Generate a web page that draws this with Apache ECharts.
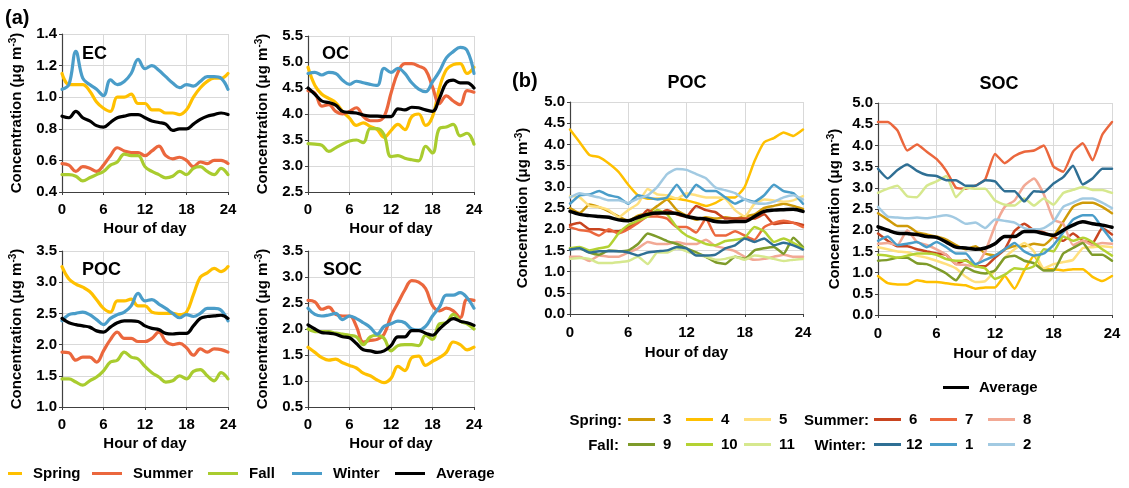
<!DOCTYPE html>
<html>
<head>
<meta charset="utf-8">
<script src="https://cdn.jsdelivr.net/npm/echarts@6/dist/echarts.min.js"></script>
<style>
html, body { margin: 0; padding: 0; background: #fff; }
#chart { width: 1129px; height: 488px; }
</style>
</head>
<body>
<div id="chart"></div>
<script>
// hour of day, 0..24
const hours = [0,1,2,3,4,5,6,7,8,9,10,11,12,13,14,15,16,17,18,19,20,21,22,23,24];
const seasons = ['Spring', 'Summer', 'Fall', 'Winter', 'Average'];
const months = ['3','4','5','6','7','8','9','10','11','12','1','2'];

// (a) EC
const ecSpring  = [1.15,1.08,1.08,1.08,1.04,0.97,0.93,0.91,1.00,1.00,1.02,0.96,0.96,0.92,0.92,0.90,0.90,0.89,0.92,1.00,1.06,1.10,1.12,1.12,1.15];
const ecSummer  = [0.58,0.57,0.53,0.56,0.55,0.53,0.57,0.63,0.68,0.66,0.65,0.65,0.63,0.66,0.69,0.63,0.61,0.62,0.60,0.56,0.59,0.58,0.60,0.60,0.58];
const ecFall    = [0.51,0.51,0.50,0.47,0.49,0.51,0.53,0.57,0.59,0.64,0.63,0.63,0.56,0.53,0.51,0.49,0.50,0.53,0.51,0.55,0.56,0.53,0.51,0.55,0.51];
const ecWinter  = [1.05,1.08,1.29,1.12,1.08,1.05,1.01,1.11,1.08,1.10,1.15,1.24,1.18,1.20,1.17,1.13,1.09,1.06,1.08,1.07,1.10,1.13,1.13,1.12,1.05];
const ecAverage = [0.88,0.87,0.91,0.87,0.85,0.82,0.81,0.84,0.87,0.88,0.89,0.89,0.87,0.85,0.84,0.83,0.79,0.80,0.80,0.83,0.86,0.88,0.89,0.90,0.89];

// (a) OC
const ocSpring  = [4.90,4.55,4.38,4.30,4.22,4.05,3.92,3.78,3.83,3.76,3.70,3.55,3.68,3.80,3.70,3.95,4.00,3.78,3.95,4.50,4.85,4.95,4.97,4.78,4.90];
const ocSummer  = [4.45,4.40,4.15,4.18,4.05,4.00,4.05,4.12,3.95,3.87,3.87,3.95,4.40,4.80,4.97,4.97,4.92,4.85,4.52,4.20,4.35,4.25,4.18,4.45,4.42];
const ocFall    = [3.43,3.42,3.40,3.28,3.35,3.42,3.48,3.50,3.45,3.72,3.72,3.60,3.18,3.20,3.15,3.12,3.10,3.38,3.25,3.72,3.75,3.80,3.58,3.63,3.42];
const ocWinter  = [4.78,4.80,4.75,4.80,4.78,4.65,4.57,4.63,4.60,4.57,4.55,4.88,4.80,4.88,4.78,4.60,4.48,4.43,4.62,4.82,5.08,5.20,5.28,5.22,4.78];
const ocAverage = [4.50,4.38,4.25,4.22,4.17,4.05,4.03,4.02,3.98,3.96,3.96,3.95,3.95,4.10,4.08,4.13,4.12,4.08,4.05,4.30,4.60,4.65,4.60,4.60,4.50];

// (a) POC
const pocSpring  = [3.25,3.05,2.97,2.92,2.85,2.72,2.58,2.52,2.70,2.70,2.73,2.62,2.62,2.52,2.50,2.50,2.50,2.48,2.52,2.80,3.08,3.15,3.22,3.17,3.25];
const pocSummer  = [1.88,1.87,1.75,1.80,1.80,1.72,1.90,2.08,2.20,2.10,2.10,2.05,2.05,2.10,2.20,2.05,2.00,2.02,1.95,1.83,1.93,1.88,1.93,1.92,1.88];
const pocFall    = [1.45,1.45,1.40,1.35,1.42,1.48,1.58,1.72,1.75,1.88,1.80,1.77,1.65,1.55,1.48,1.40,1.42,1.50,1.45,1.57,1.60,1.50,1.42,1.55,1.45];
const pocWinter  = [2.38,2.48,2.50,2.52,2.48,2.40,2.32,2.42,2.48,2.52,2.62,2.82,2.70,2.72,2.65,2.58,2.50,2.43,2.48,2.45,2.50,2.58,2.58,2.55,2.38];
const pocAverage = [2.42,2.35,2.32,2.30,2.28,2.22,2.20,2.28,2.35,2.38,2.38,2.37,2.30,2.26,2.24,2.18,2.17,2.18,2.18,2.30,2.42,2.45,2.46,2.47,2.42];

// (a) SOC
const socSpring  = [1.65,1.55,1.45,1.40,1.42,1.35,1.30,1.25,1.15,1.10,1.02,0.97,1.05,1.28,1.20,1.45,1.48,1.30,1.38,1.45,1.55,1.75,1.70,1.60,1.65];
const socSummer  = [2.55,2.52,2.38,2.42,2.28,2.25,2.25,2.05,1.75,1.78,1.80,1.90,2.25,2.50,2.75,2.93,2.90,2.78,2.45,2.35,2.40,2.35,2.22,2.57,2.55];
const socFall    = [2.00,1.95,1.95,1.95,1.92,1.90,1.88,1.85,1.70,1.85,1.88,1.82,1.58,1.68,1.70,1.70,1.68,1.88,1.80,2.10,2.12,2.28,2.15,2.10,2.00];
const socWinter  = [2.40,2.28,2.25,2.27,2.30,2.18,2.25,2.20,2.12,2.03,1.90,2.05,2.10,2.15,2.12,2.00,1.98,2.05,2.25,2.42,2.65,2.65,2.70,2.60,2.40];
const socAverage = [2.08,2.00,1.93,1.92,1.90,1.85,1.83,1.72,1.60,1.58,1.55,1.58,1.68,1.85,1.85,1.97,1.97,1.92,1.88,2.00,2.12,2.20,2.15,2.12,2.07];

// (b) POC by month
const bPoc3  = [2.50,2.38,2.58,2.52,2.42,2.30,2.20,2.32,2.38,2.55,2.70,2.45,2.32,2.22,2.28,2.25,2.28,2.25,2.30,2.35,2.50,2.55,2.60,2.55,2.48];
const bPoc4  = [4.35,4.05,3.75,3.70,3.55,3.35,3.05,2.80,2.72,2.72,2.72,2.72,2.68,2.62,2.55,2.62,2.75,2.75,3.00,3.60,4.05,4.15,4.28,4.20,4.35];
const bPoc5  = [2.78,2.75,2.55,2.52,2.45,2.28,2.45,2.60,2.95,2.82,2.80,2.72,2.85,2.80,2.75,2.75,2.72,2.45,2.30,2.60,2.70,2.68,2.65,2.68,2.78];
const bPoc6  = [2.10,2.15,2.00,2.00,1.95,1.95,2.05,2.20,2.45,2.35,2.45,2.35,2.30,2.55,2.45,2.40,2.25,2.25,2.25,2.25,2.35,2.12,2.15,2.15,2.10];
const bPoc7  = [2.05,1.98,1.95,1.85,2.00,1.90,2.00,2.15,2.30,2.30,2.25,2.05,2.05,1.92,2.25,1.85,1.85,1.95,1.85,1.75,2.05,2.15,2.20,2.15,2.05];
const bPoc8  = [1.35,1.35,1.25,1.38,1.35,1.35,1.45,1.55,1.70,1.65,1.65,1.70,1.65,1.65,1.75,1.60,1.55,1.48,1.35,1.28,1.30,1.35,1.40,1.35,1.35];
const bPoc9  = [1.55,1.55,1.45,1.40,1.50,1.48,1.50,1.65,1.90,1.82,1.72,1.65,1.55,1.45,1.35,1.22,1.18,1.35,1.30,1.50,1.55,1.58,1.42,1.80,1.58];
const bPoc10 = [1.55,1.58,1.50,1.55,1.60,1.90,2.10,2.20,2.30,2.45,2.35,2.05,1.85,1.75,1.65,1.62,1.72,1.75,1.80,2.05,1.95,1.70,1.78,1.68,1.55];
const bPoc11 = [1.30,1.32,1.30,1.20,1.20,1.22,1.25,1.35,1.18,1.45,1.45,1.55,1.48,1.40,1.35,1.28,1.30,1.35,1.28,1.38,1.35,1.30,1.25,1.28,1.30];
const bPoc12 = [1.52,1.55,1.45,1.48,1.48,1.48,1.45,1.38,1.45,1.48,1.50,1.58,1.55,1.38,1.38,1.40,1.55,1.62,1.78,1.70,1.78,1.62,1.68,1.62,1.52];
const bPoc1  = [2.60,2.80,2.82,2.90,2.80,2.75,2.60,2.80,2.75,2.70,2.75,3.05,2.75,3.05,2.90,2.90,2.75,2.60,2.70,2.65,2.80,3.05,2.90,2.85,2.60];
const bPoc2  = [2.75,2.85,2.80,2.75,2.68,2.68,2.62,2.72,2.80,3.00,3.30,3.42,3.40,3.30,3.20,2.98,2.92,2.85,2.70,2.62,2.60,2.65,2.75,2.80,2.70];

// (b) SOC by month
const bSoc3  = [2.40,2.25,2.10,2.10,1.95,1.90,1.85,1.78,1.65,1.55,1.62,1.45,1.40,1.55,1.62,1.62,1.68,1.65,1.85,2.20,2.55,2.65,2.65,2.55,2.40];
const bSoc4  = [0.92,0.75,0.72,0.72,0.82,0.78,0.78,0.75,0.72,0.70,0.62,0.65,0.65,0.92,0.62,1.05,1.40,1.08,1.08,1.05,1.08,1.08,0.90,0.80,0.92];
const bSoc5  = [1.60,1.55,1.50,1.48,1.40,1.35,1.28,1.20,1.10,0.90,0.78,0.80,1.05,1.35,1.55,1.70,1.50,1.10,1.20,1.25,1.30,1.58,1.60,1.62,1.60];
const bSoc6  = [1.92,1.75,1.62,1.62,1.55,1.50,1.45,1.42,1.20,1.30,1.15,1.15,1.35,1.55,1.98,2.15,2.00,1.95,1.85,1.75,1.92,1.75,1.70,2.05,1.90];
const bSoc7  = [4.55,4.55,4.35,3.88,4.02,3.85,3.68,3.40,3.00,2.98,3.05,3.20,3.80,3.58,3.75,3.85,3.88,4.00,3.50,3.38,3.85,4.05,3.65,4.25,4.55];
const bSoc8  = [1.68,1.70,1.65,2.00,1.72,1.65,1.55,1.42,1.20,1.18,1.15,1.50,2.10,2.55,2.70,3.05,3.22,2.85,2.25,2.15,1.65,1.75,1.65,1.70,1.68];
const bSoc9  = [1.28,1.30,1.35,1.35,1.22,1.20,1.10,0.98,0.82,1.12,1.02,0.98,1.05,1.35,1.40,1.28,1.22,1.05,1.05,1.45,1.58,1.70,1.42,1.42,1.28];
const bSoc10 = [1.42,1.40,1.35,1.40,1.45,1.45,1.42,1.32,1.28,1.28,1.15,1.10,0.85,0.95,1.10,1.08,1.15,1.55,1.50,1.85,1.75,1.82,1.72,1.55,1.40];
const bSoc11 = [2.88,2.98,3.05,2.80,2.78,3.05,3.15,3.28,2.78,3.00,2.98,2.98,2.70,2.60,2.58,2.75,2.58,2.75,2.60,2.88,2.95,3.02,2.95,2.95,2.88];
const bSoc12 = [3.45,3.22,3.42,3.55,3.40,3.30,3.28,3.18,3.18,3.05,3.05,3.18,3.15,2.92,2.92,2.68,2.92,2.90,3.10,3.25,3.52,3.08,3.22,3.45,3.45];
const bSoc1  = [1.75,1.85,1.65,1.68,1.72,1.60,1.72,1.60,1.45,1.45,1.20,1.30,1.40,1.55,1.70,1.50,1.40,1.45,1.65,1.95,2.25,2.35,2.35,2.05,1.75];
const bSoc2  = [2.55,2.32,2.30,2.28,2.30,2.28,2.32,2.35,2.28,2.15,2.18,2.05,2.25,2.22,2.18,2.05,2.02,2.05,2.20,2.55,2.65,2.75,2.75,2.65,2.52];

const font = '"Liberation Sans", Arial, sans-serif';
const seasonColors = ['#FFC000', '#EB673D', '#A9CC2F', '#4A9DC9', '#000000'];
const monthColors = ['#CF9A08', '#FFC000', '#FFE07E', '#C8441F', '#EB673D', '#F2A995',
                     '#7E9B2A', '#B4D233', '#D6E88E', '#2F6F94', '#4A9DC9', '#A2CAE2'];

const chart = echarts.init(document.getElementById('chart'));

const panels = [
    { grid: { left: 62, top: 34, width: 166, height: 158 }, min: 0.4, max: 1.4, step: 0.2, gap: 37 },
    { grid: { left: 308, top: 36, width: 166, height: 156 }, min: 2.5, max: 5.5, step: 0.5, gap: 37 },
    { grid: { left: 62, top: 251, width: 166, height: 156 }, min: 1.0, max: 3.5, step: 0.5, gap: 37 },
    { grid: { left: 308, top: 251, width: 166, height: 156 }, min: 0.5, max: 3.5, step: 0.5, gap: 37 },
    { grid: { left: 570, top: 102, width: 233, height: 212 }, min: 0, max: 5, step: 0.5, gap: 39 },
    { grid: { left: 878, top: 103, width: 234, height: 212 }, min: 0, max: 5, step: 0.5, gap: 35 }
];

const seasonData = [
    [ecSpring, ecSummer, ecFall, ecWinter, ecAverage],
    [ocSpring, ocSummer, ocFall, ocWinter, ocAverage],
    [pocSpring, pocSummer, pocFall, pocWinter, pocAverage],
    [socSpring, socSummer, socFall, socWinter, socAverage]
];
const monthPoc = [bPoc3, bPoc4, bPoc5, bPoc6, bPoc7, bPoc8, bPoc9, bPoc10, bPoc11, bPoc12, bPoc1, bPoc2];
const monthSoc = [bSoc3, bSoc4, bSoc5, bSoc6, bSoc7, bSoc8, bSoc9, bSoc10, bSoc11, bSoc12, bSoc1, bSoc2];

function lineSeries(name, values, color, idx, width, smooth, z) {
    return {
        type: 'line',
        name: name,
        xAxisIndex: idx,
        yAxisIndex: idx,
        data: values.map((v, i) => [hours[i], v]),
        symbol: 'none',
        smooth: smooth,
        z: z,
        lineStyle: { color: color, width: width, cap: 'round', join: 'round' },
        itemStyle: { color: color },
        emphasis: { disabled: true }
    };
}

const series = [];
seasonData.forEach((set, p) => {
    set.forEach((vals, k) => {
        series.push(lineSeries(seasons[k], vals, seasonColors[k], p, 3.2, 0.4, k === 4 ? 3 : 2));
    });
});
[monthPoc, monthSoc].forEach((set, j) => {
    set.forEach((vals, k) => {
        series.push(lineSeries(months[k], vals, monthColors[k], 4 + j, 2.5, 0.15, 2));
    });
    series.push(lineSeries('Average', j === 0 ? pocAverage : socAverage, '#000000', 4 + j, 3.5, 0.3, 3));
});

const labelStyle = { color: '#000', fontSize: 15, fontWeight: 'bold', fontFamily: font };
const yName = '{n|Concentration (μg m}{s|-3}{n|)}';

const xAxes = panels.map((p, i) => ({
    type: 'value', gridIndex: i, min: 0, max: 24, interval: 6,
    name: 'Hour of day', nameLocation: 'middle', nameGap: i >= 4 ? 31 : 29,
    nameTextStyle: labelStyle,
    axisLine: { lineStyle: { color: '#404040', width: 1.2 } },
    axisTick: { show: true, length: 3, lineStyle: { color: '#404040' } },
    axisLabel: Object.assign({ margin: i >= 4 ? 11 : 10 }, labelStyle),
    splitLine: { show: true, lineStyle: { color: '#D9D9D9', width: 1 } }
}));

const yAxes = panels.map((p, i) => ({
    type: 'value', gridIndex: i, min: p.min, max: p.max, interval: p.step,
    name: yName, nameLocation: 'middle', nameGap: p.gap, nameRotate: 90,
    nameTextStyle: {
        rich: {
            n: Object.assign({ lineHeight: 17 }, labelStyle),
            s: { fontSize: 10, fontWeight: 'bold', fontFamily: font, color: '#000', verticalAlign: 'top', lineHeight: 10 }
        }
    },
    axisLine: { show: true, lineStyle: { color: '#404040', width: 1.2 } },
    axisTick: { show: true, length: 3, lineStyle: { color: '#404040' } },
    axisLabel: Object.assign({ margin: 5, formatter: v => v.toFixed(1) }, labelStyle),
    splitLine: { show: true, lineStyle: { color: '#D9D9D9', width: 1 } }
}));

const legendText = { color: '#000', fontSize: 15, fontWeight: 'bold', fontFamily: font };
function legendItem(name, left, cy, w, gapPad) {
    return {
        data: [name], left: left, top: cy - 9, padding: 0,
        icon: 'rect', itemWidth: w, itemHeight: 3, selectedMode: false,
        textStyle: Object.assign({ padding: [0, 0, 0, gapPad] }, legendText)
    };
}

const legends = [
    legendItem('Spring', 8, 475, 14, 6),
    legendItem('Summer', 92, 475, 30, 6),
    legendItem('Fall', 208, 475, 30, 6),
    legendItem('Winter', 292, 475, 30, 6),
    legendItem('Average', 395, 475, 30, 6),
    legendItem('Average', 943, 389, 26, 5),
    legendItem('3', 628, 421, 27, 3),
    legendItem('4', 686, 421, 27, 3),
    legendItem('5', 744, 421, 27, 3),
    legendItem('6', 874, 421, 27, 3),
    legendItem('7', 930, 421, 27, 3),
    legendItem('8', 988, 421, 27, 3),
    legendItem('9', 628, 446, 27, 3),
    legendItem('10', 686, 446, 27, 3),
    legendItem('11', 744, 446, 27, 3),
    legendItem('12', 874, 446, 27, 0),
    legendItem('1', 930, 446, 27, 3),
    legendItem('2', 988, 446, 27, 3)
];

function txt(text, x, y, size, align) {
    return {
        type: 'text', x: x, y: y, z: 10,
        style: {
            text: text, fill: '#000', font: 'bold ' + size + 'px ' + font,
            align: align, textAlign: align, verticalAlign: 'middle', textVerticalAlign: 'middle'
        }
    };
}

const graphics = [
    txt('(a)', 5, 18, 20, 'left'),
    txt('(b)', 512, 81, 20, 'left'),
    txt('EC', 82, 54, 18, 'left'),
    txt('OC', 322, 54, 18, 'left'),
    txt('POC', 82, 270, 18, 'left'),
    txt('SOC', 323, 270, 18, 'left'),
    txt('POC', 687, 83, 18, 'center'),
    txt('SOC', 999, 84, 18, 'center'),
    txt('Spring:', 622, 421, 15, 'right'),
    txt('Fall:', 619, 446, 15, 'right'),
    txt('Summer:', 869, 421, 15, 'right'),
    txt('Winter:', 866, 446, 15, 'right')
];

chart.setOption({
    animation: false,
    backgroundColor: '#fff',
    grid: panels.map(p => Object.assign({ outerBoundsMode: 'none' }, p.grid)),
    xAxis: xAxes,
    yAxis: yAxes,
    legend: legends,
    graphic: graphics,
    series: series
});

window.addEventListener('resize', () => {
    chart.resize();
});
</script>
</body>
</html>
